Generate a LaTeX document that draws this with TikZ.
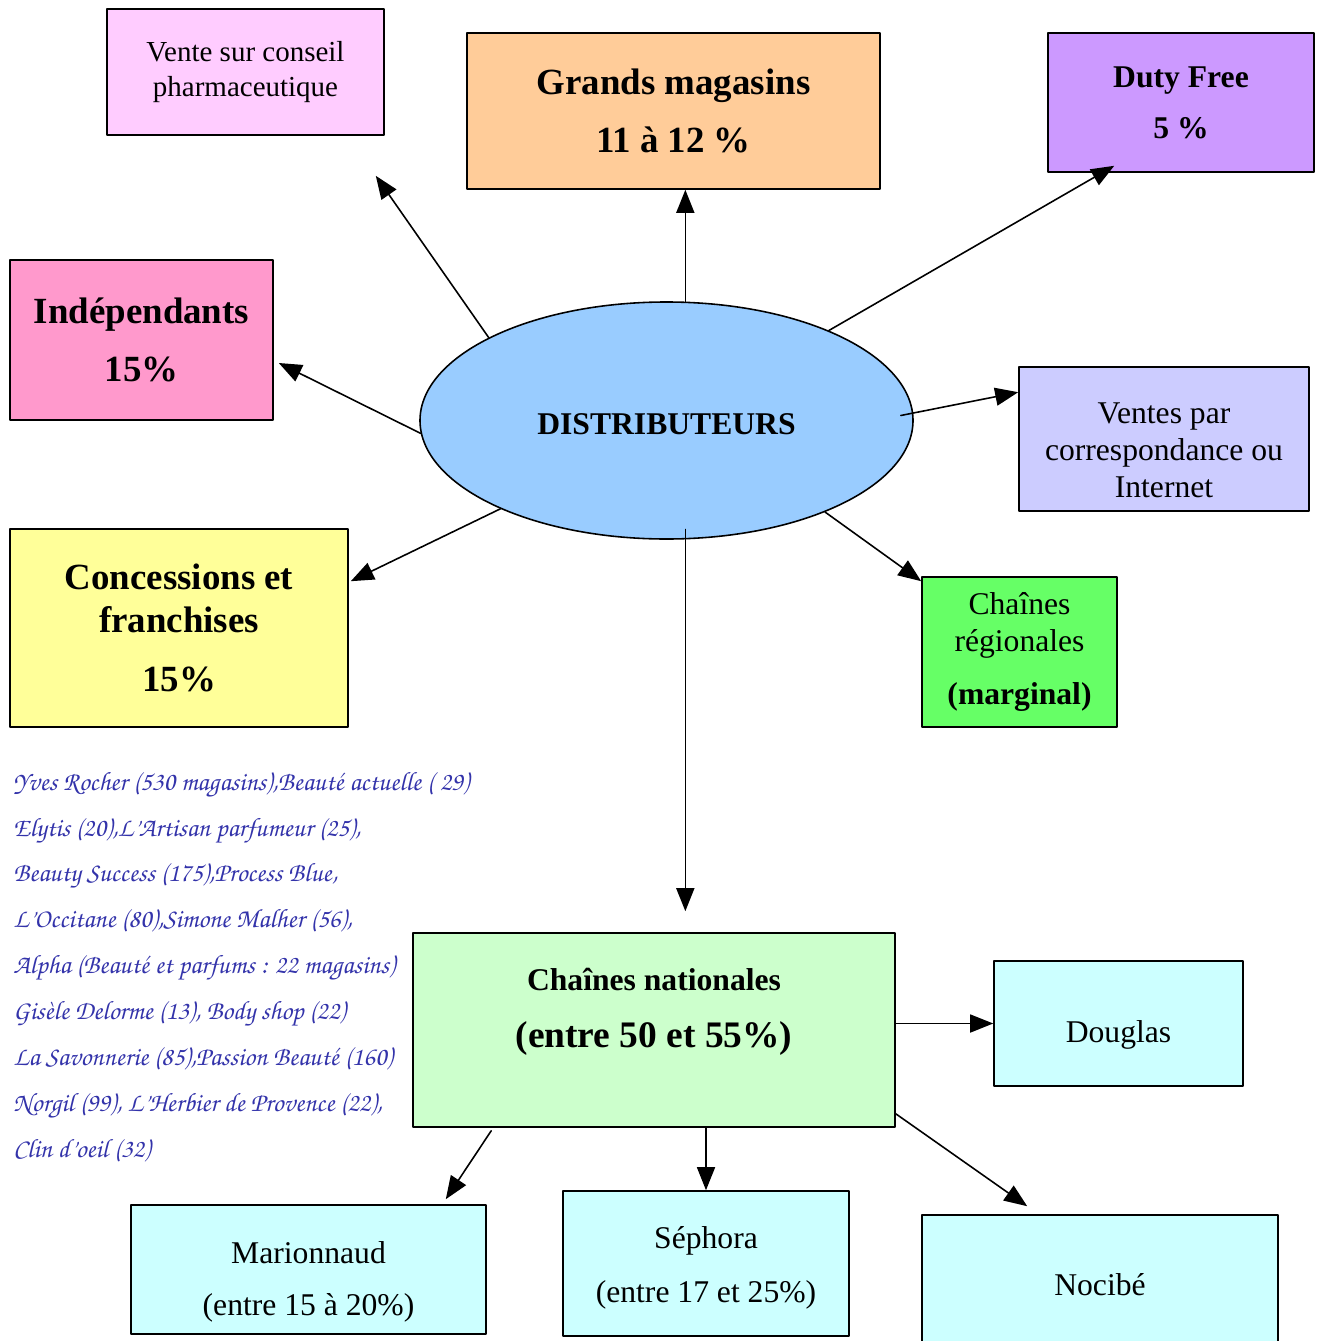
\documentclass[tikz,border=0pt]{standalone}
\usepackage[T1]{fontenc}
\usepackage{fontspec}
\setmainfont{Liberation Serif}
\usetikzlibrary{shapes.geometric,arrows.meta,calc}
\definecolor{vente}{HTML}{FFCCFF}
\definecolor{grands}{HTML}{FFCC99}
\definecolor{duty}{HTML}{CC99FF}
\definecolor{indep}{HTML}{FF99CC}
\definecolor{dist}{HTML}{99CCFF}
\definecolor{vpc}{HTML}{CCCCFF}
\definecolor{conc}{HTML}{FFFF99}
\definecolor{reg}{HTML}{66FF66}
\definecolor{nat}{HTML}{CCFFCC}
\definecolor{leaf}{HTML}{CCFFFF}
\definecolor{liste}{RGB}{51,51,170}
\newcommand\corsiva{\fontencoding{T1}\fontfamily{pzc}\fontseries{mb}\fontshape{it}\selectfont}
\begin{document}
\begin{tikzpicture}[x=0.2mm,y=-0.2mm,line cap=round,line join=round,
  >={Triangle[length=4.6mm,width=3.6mm]},
  box/.style={draw,line width=0.9pt,align=center,inner sep=0pt},
  txt/.style={align=center,inner sep=0pt},
  arr/.style={->,line width=0.9pt}]
\clip (0,0) rectangle (1323,1341);
\node[box,fill=vente,minimum width=55.4mm,minimum height=25.2mm,font=\fontsize{16.5}{20}\selectfont] (vente) at (245.5,72) {Vente sur conseil\\pharmaceutique};
\node[box,fill=grands,minimum width=82.6mm,minimum height=31.2mm,font=\fontsize{21}{25}\selectfont\bfseries] (grands) at (673.5,111) {Grands magasins\\[8pt]11 à 12 \%};
\node[box,fill=duty,minimum width=53.2mm,minimum height=27.8mm,font=\fontsize{18}{22}\selectfont\bfseries] (duty) at (1181,102.5) {Duty Free\\[7pt]5 \%};
\node[box,fill=indep,minimum width=52.6mm,minimum height=32mm,font=\fontsize{21}{25}\selectfont\bfseries] (indep) at (141.5,340) {Indépendants\\[8pt]15\%};
\node[draw,ellipse,line width=0.9pt,fill=dist,minimum width=98.6mm,minimum height=47.4mm,inner sep=0pt,
  label={[txt,yshift=-0.8mm,font=\fontsize{18}{22}\selectfont\bfseries]center:DISTRIBUTEURS}] (dist) at (666.5,420.5) {};
\node[box,fill=vpc,minimum width=58mm,minimum height=28.8mm,
  label={[txt,yshift=-2.2mm,font=\fontsize{18}{21}\selectfont]center:{Ventes par\\correspondance ou\\Internet}}] (vpc) at (1164,439) {};
\node[box,fill=conc,minimum width=67.6mm,minimum height=39.6mm,font=\fontsize{21}{24.5}\selectfont\bfseries] (conc) at (179,628) {Concessions et\\franchises\\[9.5pt]15\%};
\node[box,fill=reg,minimum width=39mm,minimum height=30mm,font=\fontsize{18}{21}\selectfont] (reg) at (1019.5,652) {Chaînes\\régionales\\[9pt]\textbf{(marginal)}};
\node[box,fill=nat,minimum width=96.4mm,minimum height=38.8mm,
  label={[txt,yshift=3.6mm,font=\fontsize{21.3}{32.4}\selectfont\bfseries]center:{{\fontsize{18}{32.4}\selectfont Chaînes nationales}\\(entre 50 et 55\%)}}] (nat) at (654,1030) {};
\node[box,fill=leaf,minimum width=49.8mm,minimum height=25mm,
  label={[txt,yshift=-2.2mm,font=\fontsize{18}{22}\selectfont]center:Douglas}] (douglas) at (1118.5,1023.5) {};
\node[box,fill=leaf,minimum width=71mm,minimum height=25.8mm,
  label={[txt,yshift=-2.4mm,font=\fontsize{18}{29.6}\selectfont]center:{Marionnaud\\(entre 15 à 20\%)}}] (mar) at (308.5,1269.5) {};
\node[box,fill=leaf,minimum width=57.2mm,minimum height=29mm,
  label={[txt,yshift=-0.8mm,font=\fontsize{18}{30.7}\selectfont]center:{Séphora\\(entre 17 et 25\%)}}] (seph) at (706,1263.5) {};
\node[box,fill=leaf,minimum width=71.2mm,minimum height=26mm,
  label={[txt,yshift=-1mm,font=\fontsize{18}{22}\selectfont]center:Nocibé}] (noc) at (1100,1280) {};
\node[anchor=north west,align=left,inner sep=0pt,text=liste,font=\corsiva\fontsize{15.1}{26.1}\selectfont] (liste) at (13,771) {Yves Rocher (530 magasins),Beauté actuelle ( 29)\\Elytis (20),L'Artisan parfumeur (25),\\Beauty Success (175),Process Blue,\\L'Occitane (80),Simone Malher (56),\\Alpha (Beauté et parfums : 22 magasins)\\Gisèle Delorme (13), Body shop (22)\\La Savonnerie (85),Passion Beauté (160)\\Norgil (99), L'Herbier de Provence (22),\\Clin d'oeil (32)};
\draw[arr] (dist.155) -- ($(vente.south east)+(-9,40)$);
\draw[arr] (dist.81) -- (dist.81 |- grands.south);
\draw[arr] (dist.29) -- ($(duty.south west)+(67,-7)$);
\draw[arr] (dist.183) -- ($(indep.east)+(5,23)$);
\draw[arr] ($(dist.east)+(-13,-5)$) -- ($(vpc.north west)+(0,26)$);
\draw[arr] (dist.208) -- ($(conc.north east)+(2,53)$);
\draw[arr] (dist.330) -- ($(reg.north west)+(0,5)$);
\draw[arr] ($(dist.279)+(0,-10)$) -- ($(dist.279 |- nat.north)+(0,-21)$);
\draw[arr] (nat.east |- douglas.west) -- (douglas.west);
\draw[arr] ($(nat.south west)+(79,3)$) -- ($(mar.north east)+(-41,-5)$);
\draw[arr] (seph.north |- nat.south) -- (seph.north);
\draw[arr] ($(nat.south east)+(0,-14)$) -- ($(noc.north west)+(106,-8)$);
\end{tikzpicture}
\end{document}
